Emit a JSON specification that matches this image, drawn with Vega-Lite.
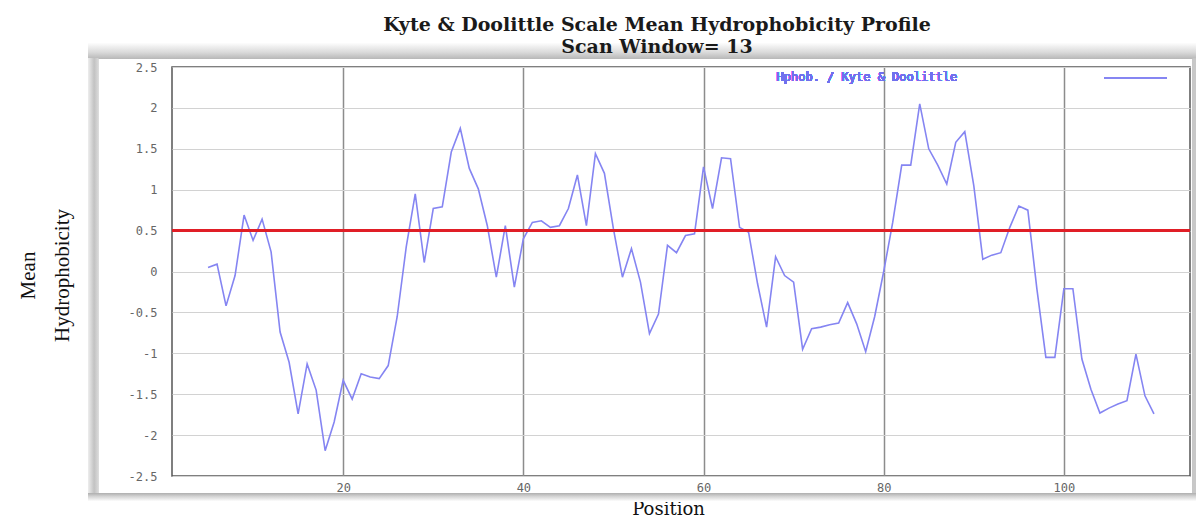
{
  "$schema": "https://vega.github.io/schema/vega-lite/v6.json",
  "autosize": {"type": "none"},
  "width": 1018,
  "height": 409,
  "padding": {"left": 172, "top": 67, "right": 6, "bottom": 43},
  "background": "white",
  "title": {
    "text": ["Kyte & Doolittle Scale Mean Hydrophobicity Profile", "Scan Window= 13"],
    "font": "DejaVu Serif",
    "fontSize": 19,
    "fontWeight": "bold",
    "color": "#1a1a1a",
    "lineHeight": 22,
    "anchor": "middle",
    "dx": -24,
    "offset": -15
  },
  "data": {
    "values": [
      {"position": 5, "hydrophobicity": 0.05},
      {"position": 6, "hydrophobicity": 0.09},
      {"position": 7, "hydrophobicity": -0.42},
      {"position": 8, "hydrophobicity": -0.05},
      {"position": 9, "hydrophobicity": 0.69},
      {"position": 10, "hydrophobicity": 0.38},
      {"position": 11, "hydrophobicity": 0.64},
      {"position": 12, "hydrophobicity": 0.24},
      {"position": 13, "hydrophobicity": -0.74},
      {"position": 14, "hydrophobicity": -1.11},
      {"position": 15, "hydrophobicity": -1.74},
      {"position": 16, "hydrophobicity": -1.13},
      {"position": 17, "hydrophobicity": -1.45},
      {"position": 18, "hydrophobicity": -2.19},
      {"position": 19, "hydrophobicity": -1.84},
      {"position": 20, "hydrophobicity": -1.33},
      {"position": 21, "hydrophobicity": -1.56},
      {"position": 22, "hydrophobicity": -1.25},
      {"position": 23, "hydrophobicity": -1.29},
      {"position": 24, "hydrophobicity": -1.31},
      {"position": 25, "hydrophobicity": -1.15},
      {"position": 26, "hydrophobicity": -0.55},
      {"position": 27, "hydrophobicity": 0.3},
      {"position": 28, "hydrophobicity": 0.95},
      {"position": 29, "hydrophobicity": 0.11},
      {"position": 30, "hydrophobicity": 0.77},
      {"position": 31, "hydrophobicity": 0.79},
      {"position": 32, "hydrophobicity": 1.46},
      {"position": 33, "hydrophobicity": 1.75},
      {"position": 34, "hydrophobicity": 1.26},
      {"position": 35, "hydrophobicity": 1.01},
      {"position": 36, "hydrophobicity": 0.56},
      {"position": 37, "hydrophobicity": -0.07},
      {"position": 38, "hydrophobicity": 0.56},
      {"position": 39, "hydrophobicity": -0.19},
      {"position": 40, "hydrophobicity": 0.4},
      {"position": 41, "hydrophobicity": 0.6},
      {"position": 42, "hydrophobicity": 0.62},
      {"position": 43, "hydrophobicity": 0.54},
      {"position": 44, "hydrophobicity": 0.56},
      {"position": 45, "hydrophobicity": 0.77},
      {"position": 46, "hydrophobicity": 1.18},
      {"position": 47, "hydrophobicity": 0.56},
      {"position": 48, "hydrophobicity": 1.44},
      {"position": 49, "hydrophobicity": 1.2},
      {"position": 50, "hydrophobicity": 0.52},
      {"position": 51, "hydrophobicity": -0.07},
      {"position": 52, "hydrophobicity": 0.28},
      {"position": 53, "hydrophobicity": -0.13},
      {"position": 54, "hydrophobicity": -0.76},
      {"position": 55, "hydrophobicity": -0.52},
      {"position": 56, "hydrophobicity": 0.32},
      {"position": 57, "hydrophobicity": 0.23},
      {"position": 58, "hydrophobicity": 0.44},
      {"position": 59, "hydrophobicity": 0.46},
      {"position": 60, "hydrophobicity": 1.28},
      {"position": 61, "hydrophobicity": 0.77},
      {"position": 62, "hydrophobicity": 1.39},
      {"position": 63, "hydrophobicity": 1.38},
      {"position": 64, "hydrophobicity": 0.54},
      {"position": 65, "hydrophobicity": 0.48},
      {"position": 66, "hydrophobicity": -0.15},
      {"position": 67, "hydrophobicity": -0.68},
      {"position": 68, "hydrophobicity": 0.18},
      {"position": 69, "hydrophobicity": -0.05},
      {"position": 70, "hydrophobicity": -0.13},
      {"position": 71, "hydrophobicity": -0.95},
      {"position": 72, "hydrophobicity": -0.7},
      {"position": 73, "hydrophobicity": -0.68},
      {"position": 74, "hydrophobicity": -0.65},
      {"position": 75, "hydrophobicity": -0.63},
      {"position": 76, "hydrophobicity": -0.38},
      {"position": 77, "hydrophobicity": -0.64},
      {"position": 78, "hydrophobicity": -0.98},
      {"position": 79, "hydrophobicity": -0.55},
      {"position": 80, "hydrophobicity": 0.0},
      {"position": 81, "hydrophobicity": 0.6},
      {"position": 82, "hydrophobicity": 1.3},
      {"position": 83, "hydrophobicity": 1.3},
      {"position": 84, "hydrophobicity": 2.05},
      {"position": 85, "hydrophobicity": 1.5},
      {"position": 86, "hydrophobicity": 1.3},
      {"position": 87, "hydrophobicity": 1.07},
      {"position": 88, "hydrophobicity": 1.58},
      {"position": 89, "hydrophobicity": 1.71},
      {"position": 90, "hydrophobicity": 1.05},
      {"position": 91, "hydrophobicity": 0.15},
      {"position": 92, "hydrophobicity": 0.2},
      {"position": 93, "hydrophobicity": 0.23},
      {"position": 94, "hydrophobicity": 0.54},
      {"position": 95, "hydrophobicity": 0.8},
      {"position": 96, "hydrophobicity": 0.75},
      {"position": 97, "hydrophobicity": -0.21},
      {"position": 98, "hydrophobicity": -1.05},
      {"position": 99, "hydrophobicity": -1.05},
      {"position": 100, "hydrophobicity": -0.21},
      {"position": 101, "hydrophobicity": -0.21},
      {"position": 102, "hydrophobicity": -1.07},
      {"position": 103, "hydrophobicity": -1.44},
      {"position": 104, "hydrophobicity": -1.73},
      {"position": 105, "hydrophobicity": -1.67},
      {"position": 106, "hydrophobicity": -1.62},
      {"position": 107, "hydrophobicity": -1.58},
      {"position": 108, "hydrophobicity": -1.01},
      {"position": 109, "hydrophobicity": -1.52},
      {"position": 110, "hydrophobicity": -1.74}
    ]
  },
  "layer": [
    {
      "mark": {
        "type": "rect",
        "clip": false,
        "fill": {
          "gradient": "linear",
          "x1": 0, "y1": 0, "x2": 0, "y2": 1,
          "stops": [
            {"offset": 0, "color": "#ffffff"},
            {"offset": 0.6, "color": "#dadada"},
            {"offset": 1, "color": "#b8b8b8"}
          ]
        }
      },
      "encoding": {
        "x": {"datum": -8.3, "type": "quantitative", "scale": {"domain": [1, 114], "nice": false, "zero": false}},
        "x2": {"datum": 114.8},
        "y": {"datum": 2.8, "type": "quantitative", "scale": {"domain": [-2.5, 2.5], "nice": false, "zero": false}},
        "y2": {"datum": 2.6}
      }
    },
    {
      "mark": {
        "type": "rect",
        "clip": false,
        "fill": {
          "gradient": "linear",
          "x1": 0, "y1": 0, "x2": 1, "y2": 0,
          "stops": [
            {"offset": 0, "color": "#ececec"},
            {"offset": 0.6, "color": "#c2c2c2"},
            {"offset": 1, "color": "#d8d8d8"}
          ]
        }
      },
      "encoding": {
        "x": {"datum": -8.3, "type": "quantitative"},
        "x2": {"datum": -7.2},
        "y": {"datum": 2.6, "type": "quantitative"},
        "y2": {"datum": -2.71}
      }
    },
    {
      "mark": {"type": "rect", "clip": false, "fill": "#c8c8c8"},
      "encoding": {
        "x": {"datum": 114.3, "type": "quantitative"},
        "x2": {"datum": 114.8},
        "y": {"datum": 2.6, "type": "quantitative"},
        "y2": {"datum": -2.71}
      }
    },
    {
      "mark": {
        "type": "rect",
        "clip": false,
        "fill": {
          "gradient": "linear",
          "x1": 0, "y1": 0, "x2": 0, "y2": 1,
          "stops": [
            {"offset": 0, "color": "#b0b0b0"},
            {"offset": 0.4, "color": "#d4d4d4"},
            {"offset": 1, "color": "#ffffff"}
          ]
        }
      },
      "encoding": {
        "x": {"datum": -8.3, "type": "quantitative"},
        "x2": {"datum": 114.8},
        "y": {"datum": -2.71, "type": "quantitative"},
        "y2": {"datum": -2.81}
      }
    },
    {
      "mark": {"type": "line", "color": "#8585f2", "strokeWidth": 1.6},
      "encoding": {
        "x": {
          "field": "position",
          "type": "quantitative",
          "scale": {"domain": [1, 114], "nice": false, "zero": false},
          "axis": {
            "title": "Position",
            "titleFont": "DejaVu Serif",
            "titleFontSize": 18,
            "titleFontWeight": "normal",
            "titleColor": "#111",
            "titleX": 496,
            "titleY": 33,
            "titleBaseline": "middle",
            "values": [20, 40, 60, 80, 100],
            "grid": true,
            "gridColor": "#8c8c8c",
            "gridWidth": 1.5,
            "domain": false,
            "ticks": false,
            "labelFont": "DejaVu Sans Mono",
            "labelFontSize": 12,
            "labelColor": "#666",
            "labelPadding": 6
          }
        },
        "y": {
          "field": "hydrophobicity",
          "type": "quantitative",
          "scale": {"domain": [-2.5, 2.5], "nice": false, "zero": false},
          "axis": {
            "title": ["Mean", "Hydrophobicity"],
            "titleFont": "Liberation Serif",
            "titleFontSize": 21,
            "titleFontWeight": "normal",
            "titleColor": "#111",
            "titleAngle": -90,
            "titleAlign": "center",
            "titleBaseline": "middle",
            "titleLineHeight": 34,
            "titleX": -144,
            "titleY": 208,
            "values": [-2.5, -2, -1.5, -1, -0.5, 0, 0.5, 1, 1.5, 2, 2.5],
            "labelExpr": "'' + datum.value",
            "grid": true,
            "gridColor": "#d2d2d2",
            "gridWidth": 1,
            "domain": false,
            "ticks": false,
            "labelFont": "DejaVu Sans Mono",
            "labelFontSize": 12,
            "labelColor": "#666",
            "labelPadding": 15
          }
        }
      }
    },
    {
      "mark": {"type": "rule", "color": "#e01e26", "strokeWidth": 3},
      "encoding": {"y": {"datum": 0.5, "type": "quantitative"}}
    },
    {
      "mark": {"type": "text", "font": "DejaVu Sans Mono", "fontSize": 12, "color": "#7070ee", "align": "left", "baseline": "middle"},
      "encoding": {
        "x": {"datum": 68.1, "type": "quantitative"},
        "y": {"datum": 2.38, "type": "quantitative"},
        "text": {"value": "Hphob. / Kyte & Doolittle"}
      }
    },
    {
      "mark": {"type": "rule", "color": "#8585f2", "strokeWidth": 1.5},
      "encoding": {
        "x": {"datum": 104.5, "type": "quantitative"},
        "x2": {"datum": 111.4},
        "y": {"datum": 2.37, "type": "quantitative"}
      }
    }
  ],
  "config": {
    "view": {"stroke": "#555", "strokeWidth": 1.5}
  }
}
